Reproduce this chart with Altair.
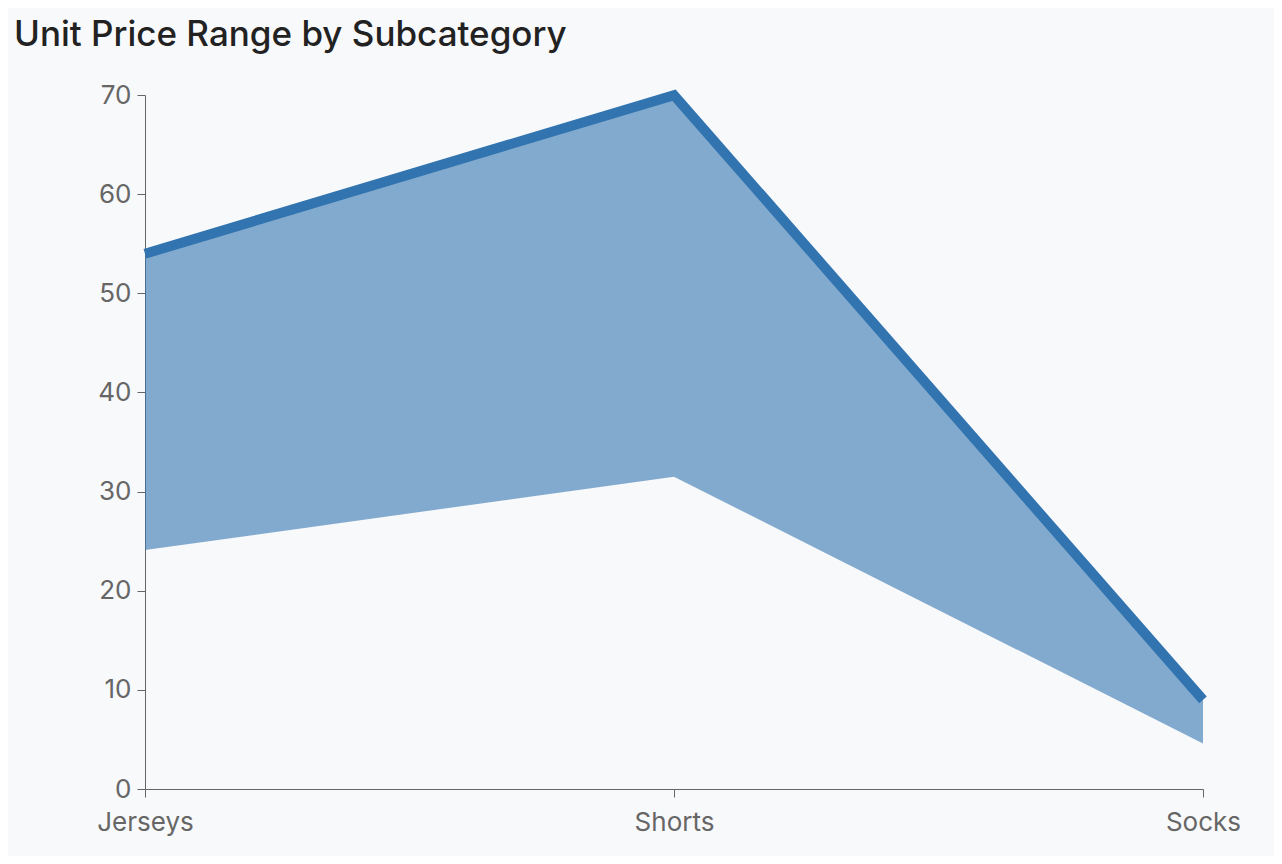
import altair as alt
import pandas as pd

subcategories = ["Jerseys", "Shorts", "Socks"]
min_price = [24.1, 31.5, 4.6]
max_price = [53.99, 69.99, 8.99]

df = pd.DataFrame({"Subcategory": subcategories, "Min": min_price, "Max": max_price})

x = alt.X("Subcategory:N", sort=subcategories, title=None,
          scale=alt.Scale(type="point", padding=0),
          axis=alt.Axis(labelAngle=0, labelFontSize=26, labelColor="#666666",
                        labelFont="Inter", labelPadding=12, tickSize=8,
                        domainColor="#666666", tickColor="#666666", labelFlush=False))

y_axis = alt.Axis(values=[0, 10, 20, 30, 40, 50, 60, 70], labelFontSize=26,
                  labelColor="#666666", labelFont="Inter", grid=False,
                  domainColor="#666666", tickColor="#666666", tickSize=8, labelPadding=6)

area = alt.Chart(df).mark_area(color="#3274b0", opacity=0.6).encode(
    x=x,
    y=alt.Y("Min:Q", title=None, scale=alt.Scale(domain=[0, 70]), axis=y_axis),
    y2="Max:Q",
)

line = alt.Chart(df).mark_line(color="#3274b0", strokeWidth=10, strokeCap="butt").encode(
    x=x,
    y=alt.Y("Max:Q", scale=alt.Scale(domain=[0, 70])),
)

chart = (area + line).properties(
    width=1058,
    height=694,
    background="#f8f9fb",
    padding={"left": 137, "top": 87, "right": 71, "bottom": 67},
    autosize=alt.AutoSizeParams(type="none"),
    title=alt.TitleParams("Unit Price Range by Subcategory", anchor="start", frame="group",
                          font="Inter", fontSize=35, fontWeight=500, color="#222222",
                          dx=-131, offset=22),
).configure_view(stroke=None)

chart.save("out.html", embed_options={"renderer": "svg", "actions": False})
